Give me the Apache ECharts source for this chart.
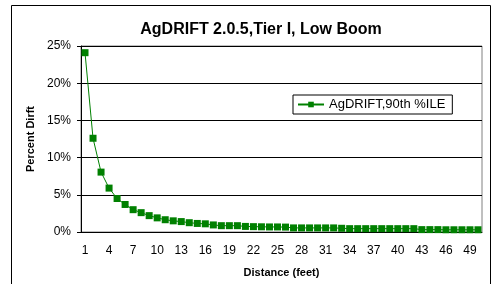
<!DOCTYPE html>
<html>
<head>
<meta charset="utf-8">
<script src="https://cdn.jsdelivr.net/npm/echarts@6/dist/echarts.min.js"></script>
<style>
  html, body { margin: 0; padding: 0; background: #fff; }
  #chart { width: 491px; height: 284px; }
</style>
</head>
<body>
<div id="chart"></div>
<script>
// distance in feet, 1..50
const distances = []
for (let i = 1; i <= 50; i++) distances.push(String(i))

// percent drift
const driftValues = [
  24.1, 12.6, 8.05, 5.9, 4.5, 3.7, 3.0, 2.6, 2.2, 1.9,
  1.65, 1.5, 1.4, 1.25, 1.15, 1.1, 0.95, 0.85, 0.85, 0.85,
  0.75, 0.72, 0.7, 0.68, 0.68, 0.66, 0.55, 0.55, 0.55, 0.55,
  0.55, 0.55, 0.5, 0.45, 0.45, 0.45, 0.45, 0.45, 0.45, 0.45,
  0.45, 0.45, 0.32, 0.32, 0.32, 0.3, 0.3, 0.3, 0.3, 0.3
]

const yTicks = [0, 5, 10, 15, 20, 25]

const chart = echarts.init(document.getElementById('chart'))
chart.setOption({
  animation: false,
  textStyle: { fontFamily: 'Liberation Sans, Arial, sans-serif' },
  title: {
    text: 'AgDRIFT 2.0.5,Tier I, Low Boom',
    left: 256,
    textAlign: 'center',
    top: 17,
    textStyle: { fontSize: 16, fontWeight: 'bold', color: '#000' }
  },
  graphic: [
    {
      type: 'rect',
      shape: { x: 11.5, y: 5.5, width: 479, height: 300 },
      style: { fill: 'none', stroke: '#000', lineWidth: 1 },
      silent: true
    }
  ],
  legend: {
    data: ['AgDRIFT,90th %ILE'],
    left: 293,
    top: 95,
    padding: [3, 7, 3, 4],
    itemWidth: 26,
    itemHeight: 7,
    itemGap: 5,
    borderColor: '#000',
    borderWidth: 1,
    backgroundColor: '#fff',
    textStyle: { fontSize: 13, color: '#000' }
  },
  grid: {
    left: 81,
    right: 9,
    top: 46,
    bottom: 52,
    show: true,
    borderColor: '#808080',
    borderWidth: 1
  },
  xAxis: {
    type: 'category',
    data: distances,
    name: 'Distance (feet)',
    nameLocation: 'middle',
    nameGap: 35,
    nameTextStyle: { fontSize: 11, fontWeight: 'bold', color: '#000' },
    axisLine: { lineStyle: { color: '#000' } },
    axisTick: { length: 4, lineStyle: { color: '#000' } },
    axisLabel: { interval: 2, fontSize: 12, color: '#000', margin: 13 }
  },
  yAxis: {
    type: 'value',
    min: yTicks[0],
    max: yTicks[yTicks.length - 1],
    interval: 5,
    name: 'Percent Dirft',
    nameLocation: 'middle',
    nameGap: 44,
    nameTextStyle: { fontSize: 11, fontWeight: 'bold', color: '#000' },
    axisLine: { show: true, lineStyle: { color: '#000' } },
    axisTick: { show: true, length: 4, lineStyle: { color: '#000' } },
    axisLabel: { fontSize: 12, color: '#000', margin: 10, formatter: '{value}%' },
    splitLine: { lineStyle: { color: '#000', width: 1 } }
  },
  series: [
    {
      name: 'AgDRIFT,90th %ILE',
      type: 'line',
      data: driftValues,
      symbol: 'rect',
      symbolSize: 7,
      showAllSymbol: true,
      itemStyle: { color: '#008000' },
      lineStyle: { color: '#008000', width: 1 }
    }
  ]
})
</script>
</body>
</html>
